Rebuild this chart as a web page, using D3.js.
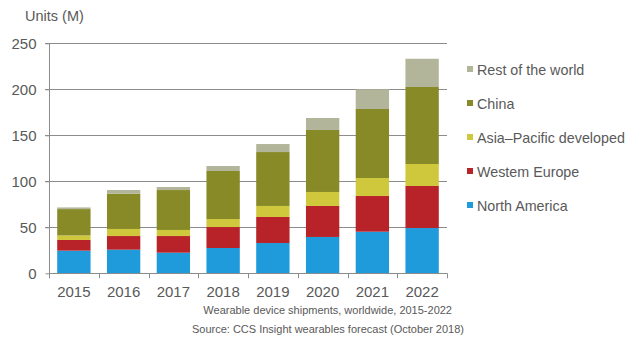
<!DOCTYPE html>
<html><head><meta charset="utf-8">
<script src="https://cdn.jsdelivr.net/npm/d3@7"></script>
<style>body{margin:0;background:#fff;font-family:"Liberation Sans",Arial,sans-serif;}</style>
</head><body><svg id="c" width="639" height="345"></svg>
<script>
const years = ["2015","2016","2017","2018","2019","2020","2021","2022"];
const seriesNames = ["North America","Western Europe","Asia\u2013Pacific developed","China","Rest of the world"];
const northAmerica = [24.6,25.7,22.4,27.5,32.9,39.5,45.2,49.2];
const westernEurope = [11.6,14.8,18.1,22.8,28.3,33.7,38.8,45.7];
const asiaPacific = [5.0,7.7,6.6,8.7,12.0,15.2,19.6,23.9];
const china = [28.6,38.4,43.4,52.2,58.6,67.4,75.0,83.7];
const restOfWorld = [1.8,3.9,3.3,5.4,8.7,13.0,21.4,30.7];
const colors = ["#1f9bdc","#b8232a","#cfc83c","#878a27","#b2b59a"];
const yTicks = [0,50,100,150,200,250];
const legendLabels = ["Rest of the world","China","Asia\u2013Pacific developed","Westem Europe","North America"];

const data = years.map((y,i)=>({year:y,
  "North America":northAmerica[i],"Western Europe":westernEurope[i],
  "Asia\u2013Pacific developed":asiaPacific[i],"China":china[i],"Rest of the world":restOfWorld[i]}));
const stack = d3.stack().keys(seriesNames)(data);

const svg = d3.select("#c");
const pLeft=49, pRight=447, pTop=43.3, pBottom=273.3;
const x = d3.scaleBand().domain(years).range([pLeft,pRight]).paddingInner(0.33).paddingOuter(0.165);
const y = d3.scaleLinear().domain([0,250]).range([pBottom,pTop]);
const txt = "#595959";

// gridlines
svg.append("g").selectAll("line").data(yTicks.filter(d=>d>0)).join("line")
  .attr("x1",pLeft-4).attr("x2",pRight).attr("y1",d=>Math.round(y(d))+0.5).attr("y2",d=>Math.round(y(d))+0.5)
  .attr("stroke","#8c8c8c").attr("stroke-width",1);

// bars
svg.append("g").selectAll("g").data(stack).join("g").attr("fill",(d,i)=>colors[i])
  .selectAll("rect").data(d=>d).join("rect")
  .attr("x",d=>x(d.data.year)).attr("width",x.bandwidth())
  .attr("y",d=>y(d[1])).attr("height",d=>y(d[0])-y(d[1]));

// y axis
const ya = svg.append("g").attr("transform",`translate(${pLeft+0.5},0)`)
  .call(d3.axisLeft(y).tickValues(yTicks).tickSize(4).tickPadding(9));
ya.select(".domain").attr("stroke","#8c8c8c").attr("d",`M0,${pTop}V${pBottom}`);
ya.selectAll(".tick line").attr("stroke","#8c8c8c");
ya.selectAll(".tick text").attr("fill",txt).style("font-size","15px").style("font-family","Liberation Sans, Arial, sans-serif");

// x axis
const xa = svg.append("g").attr("transform",`translate(0,${Math.round(pBottom)+0.5})`)
  .call(d3.axisBottom(x).tickSize(0).tickPadding(13));
xa.select(".domain").attr("stroke","#8c8c8c").attr("d",`M${pLeft},0H${pRight}`);
xa.selectAll(".tick text").attr("fill",txt).style("font-size","15px").style("font-family","Liberation Sans, Arial, sans-serif");
const bounds = years.map(d=>x(d)-x.step()*x.paddingInner()/2).concat([pRight]);
svg.append("g").selectAll("line").data(bounds).join("line")
  .attr("x1",d=>Math.round(d)+0.5).attr("x2",d=>Math.round(d)+0.5)
  .attr("y1",pBottom).attr("y2",pBottom+5).attr("stroke","#8c8c8c");

// title
svg.append("text").attr("x",25).attr("y",21).attr("fill",txt).style("font-size","14.5px").text("Units (M)");

// legend
const lg = svg.append("g").selectAll("g").data(legendLabels).join("g")
  .attr("transform",(d,i)=>`translate(467,${69+i*34})`);
lg.append("rect").attr("x",0).attr("y",-3).attr("width",6).attr("height",6)
  .attr("fill",(d,i)=>colors[4-i]);
lg.append("text").attr("x",10).attr("y",5.5).attr("fill",txt).style("font-size","14.3px").text(d=>d);

// footnotes
svg.append("text").attr("x",452).attr("y",314).attr("text-anchor","end").attr("fill",txt)
  .style("font-size","11px").text("Wearable device shipments, worldwide, 2015-2022");
svg.append("text").attr("x",464).attr("y",333).attr("text-anchor","end").attr("fill",txt)
  .style("font-size","11px").text("Source: CCS Insight wearables forecast (October 2018)");
</script></body></html>
